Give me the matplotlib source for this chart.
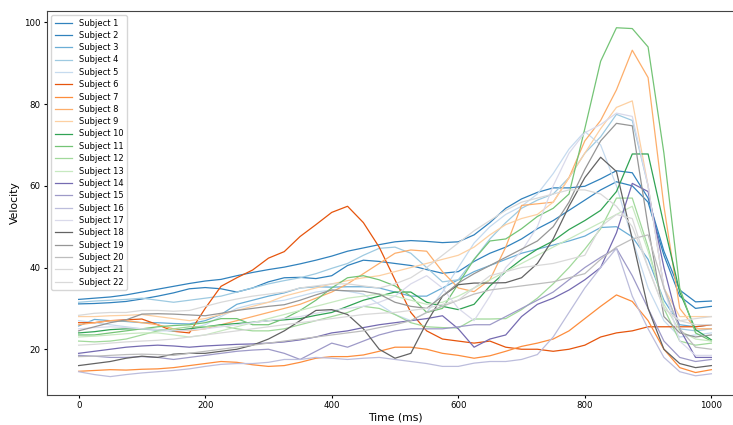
import numpy as np
import matplotlib
matplotlib.use("Agg")
import matplotlib.pyplot as plt

time_ms = list(range(0, 1001, 25))

s1 = [32.2,32.5,32.8,33.3,34,34.7,35.4,36.1,36.7,37.1,38,38.8,39.5,40.1,40.9,41.8,42.8,44,44.8,45.6,46.3,46.6,46.4,46.1,46.3,48,51,54.5,56.8,58.4,59.5,59.5,59.9,61.7,63.7,63.2,57,44,34.5,31.6,31.8]
s2 = [31.1,31.2,31.4,31.7,32.3,33,33.8,34.8,35.1,34.8,34,35,36.5,37.5,37.6,37.3,38,40.5,41.8,41.5,41,40.5,39.5,38.6,39,41.5,43.5,45,47,49.5,51.5,54,56.5,59,61,60,56,43,33,30,30.5]
s3 = [25.7,27.3,27,26.8,26.5,26.5,26.3,26.2,27,28.5,31,32,33,33.8,35,35.3,35.2,35.3,35.3,35,34,33,33,35,37,39,40.5,42,43.5,44.5,45.5,46.5,47.7,49.8,50,47.5,42,32,26,25.5,26]
s4 = [31.5,31.8,32,32.2,32.5,32,31.5,32,32.5,33,34,35,36,36.8,37.5,38.5,39.8,41,43,44.7,45,43.5,40,36.5,37,42,47,51,54.5,56.5,58,62,68,72,77.5,76,60,35,25,24.5,25]
s5 = [27,26.5,26,25.5,25,24.5,24.5,25,26,28,30,31,31.5,32,33,34,34.5,34.2,33.5,31,28.5,27,29,34,40,46,50,53,55,58,63,69,73.3,70,60,47,35,27,23,23.5,24]
s6 = [26.5,26.5,27,27.2,27.4,26,24.4,24,30,35.4,37.5,39.4,42.3,43.9,47.6,50.5,53.5,55,51,45,37,29,24.5,22.5,22,21.5,22,20.5,20,20,19.5,20,21,23,24,24.5,25.5,25.5,25.5,25.5,26]
s7 = [14.6,14.8,15,14.9,15.1,15.2,15.5,16,16.5,17,16.8,16.2,15.8,16,16.8,17.8,18.2,18.2,18.6,19.5,20.5,20.5,20,19,18.5,17.8,18.4,19.5,20.7,21.5,22.5,24.5,27.5,30.5,33.3,31.7,27,20,15.5,14.3,15]
s8 = [26,26.5,27,27,26.5,26,25,24.5,25,26,27,28,29,30,31,32.5,34,36,38.5,41,43.5,44.3,44,39,35,34.1,37,45,55.2,55.6,56,62,71,76,83.5,93.2,86.5,55,30,25,25]
s9 = [28,28,28.2,28.3,28.5,28,27.5,27,27.5,28.5,29.5,30.5,31.5,33,34,35,36,36.8,37.5,38,39,40,41,42,43,45,48,50.5,52,53,56,62,68,74,79.2,80.8,60,35,28,28,28]
s10 = [24,24.3,24.8,25,25,24.8,24.5,25,25.5,26,26.3,26.6,27,27.2,27.5,28.3,29,30.5,32,33,34,34,31.5,30.5,29.7,31,35.5,39,42,44.5,46.5,49.3,51.5,54,58.6,67.8,67.8,50.5,34,24.8,22.3]
s11 = [23.5,23.5,24,24.5,25,25.5,25.8,26,26.5,27.5,27.5,26,26,27.5,29.5,32,35,37.5,38,37,35.5,33,29,30,36,42,46.5,47,49.5,52.5,54.5,58,74,90.5,98.7,98.5,94,68,35,24,22]
s12 = [22,21.8,22,22.5,23.5,24.5,25,25.5,25.5,25.8,25,24.5,24.5,25,26,27,28,29,30.5,30,28.5,26.5,25.5,25.3,25.2,27.4,27.4,27.5,29.7,32.5,36,40,44.5,49.5,57,57,45,30,22,21,21.5]
s13 = [23,23.2,23.5,23.8,24,24,23.5,23,23.5,24.5,25.5,26.5,27.5,28.5,29.5,30.5,31.5,32.5,33,33.5,33,32,31,31.5,33,35,37,39,41,43,45,47,49,51,53,55,44,31,24.5,22.5,22]
s14 = [19,19.5,20,20.5,20.8,21,20.8,20.5,20.8,21,21.2,21.3,21.5,21.8,22.3,23,24,24.5,25.3,26,26.5,27,27.5,28.2,25,20.5,22.5,23.5,28,31,32.5,34.5,37,40,48.5,60.6,58.6,40,25,18,18]
s15 = [18.5,18.3,18,18,18.2,18,17.5,18,18.5,19,19.5,19.8,20,19,17.5,19.5,21.5,20.5,22,23.5,24.5,25,25,25,25.5,26,26,28,30,32,34,37,40,42.5,44.7,38,30,22,18,17,17.5]
s16 = [14.5,13.8,13.3,13.8,14.2,14.5,14.8,15.2,15.8,16.3,16.5,16.5,16.8,17.5,17.5,18,17.8,17.5,17.8,18,17.5,17,16.5,15.8,15.8,16.6,17,17,17.5,18.7,23,29,35,40,44.7,33,25,18,14.5,13.5,14]
s17 = [25,25.3,25.5,25.3,25,24.8,24.5,24.7,25,25.5,26,26.5,27,27.5,28,28.8,29.5,30,30.5,31.5,33,36,38,35,30,27,33,40,44,50,60,68,73,75,77.8,77,60,35,22,18.5,18.5]
s18 = [16,16.5,17,17.8,18.3,18,18.8,19,19,19.5,20,21,22.5,24.5,27,29.5,29.7,28.5,25,20,17.8,19,26.5,33,35.8,36.2,36.2,36.3,37.5,41,47,55,62,67,63.5,47,30,20,16.5,15.5,16]
s19 = [24.5,25.5,26.5,27.2,28.6,28.7,28.6,28.4,28.2,28.8,29.5,30,30.5,30.9,32,33.3,34.5,34.3,34.2,33.5,31.5,30.5,30,33,36.2,38.5,40.5,42.5,44.5,46.5,50,56,64,71,75.3,74.7,50,28,24,23,23.5]
s20 = [18.2,18.3,18.5,18.7,18.8,18.7,18.5,19,19.5,20,20.5,21,21.5,22,22.5,23,23.5,24,24.5,25.3,26,27,29,30.5,32,33.5,34.5,35,35.5,36,36.5,37.5,38.5,42,45,47,48,35,25,20.5,20]
s21 = [28.3,28.8,29,29,29.5,29.5,29.3,29.5,30.5,31.5,32.3,33,33.5,34,35,35.5,36,36,35.5,35,36,37.5,40,43,46,49,51.5,54,56,57,58,59,59,58,55,50,40,30,27,26,26]
s22 = [21,21.2,21.5,21.8,22,22.2,22.5,23,23.5,24,24.5,25,25.5,26,26.5,27,27.5,28,28.5,28.8,29,29.5,30,31,32,35,38,39,40,40.5,41,42,43,50,53,52,40,30,27,27.5,28]

subjects = [s1, s2, s3, s4, s5, s6, s7, s8, s9, s10, s11,
            s12, s13, s14, s15, s16, s17, s18, s19, s20, s21, s22]
labels = [f"Subject {i}" for i in range(1, 23)]

fig = plt.figure(figsize=(7.33, 4.25), dpi=100)
ax = fig.add_axes([47/733, 30/425, 696/733, 384/425])
colors = plt.cm.tab20c(np.linspace(0, 1, len(subjects)))
for vals, lab, c in zip(subjects, labels, colors):
    ax.plot(time_ms, vals, color=c, lw=0.9, label=lab)

ax.set_xlim(-50, 1050)
ax.set_ylim(8.8, 102.8)
ax.set_xticks([0, 200, 400, 600, 800, 1000])
ax.set_yticks([20, 40, 60, 80, 100])
ax.tick_params(labelsize=6.2, length=2.5, pad=2)
for sp in ax.spines.values():
    sp.set_linewidth(0.8)
    sp.set_color("#444444")
ax.set_xlabel("Time (ms)", fontsize=7.8, labelpad=1.5)
ax.set_ylabel("Velocity", fontsize=7.8, labelpad=3)
ax.legend(loc="upper left", fontsize=6.0, labelspacing=0.4, handlelength=2.1,
          borderpad=0.4, handletextpad=0.8)
fig.savefig("out.png", dpi=100)
